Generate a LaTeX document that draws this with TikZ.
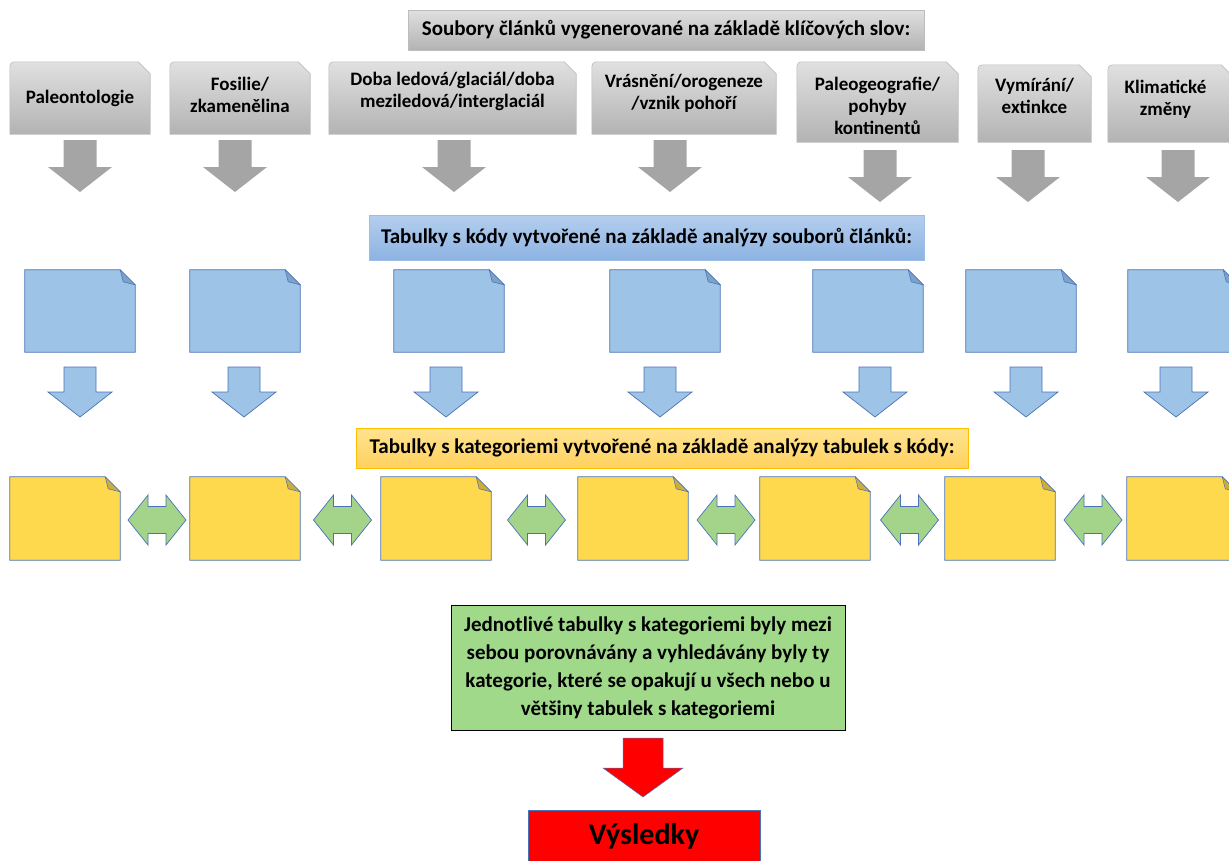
\documentclass[tikz,border=0pt]{standalone}
\usepackage{fontspec}
\setmainfont{Carlito}
\usetikzlibrary{positioning, calc, backgrounds}

\definecolor{boxtop}{HTML}{E0E0E0}
\definecolor{boxbottom}{HTML}{B3B3B3}
\definecolor{boxline}{HTML}{BDBDBD}
\definecolor{arrowgray}{HTML}{A5A5A5}
\definecolor{bluetop}{HTML}{B4CEEF}
\definecolor{bluebottom}{HTML}{8DB3E2}
\definecolor{blueline}{HTML}{9CBDE6}
\definecolor{docblue}{HTML}{9DC3E6}
\definecolor{foldblue}{HTML}{7EA2C7}
\definecolor{edgeblue}{HTML}{4A72B8}
\definecolor{yellowtop}{HTML}{FFE391}
\definecolor{yellowbottom}{HTML}{FFD15E}
\definecolor{yellowline}{HTML}{FFC000}
\definecolor{docyellow}{HTML}{FFD94D}
\definecolor{foldyellow}{HTML}{CCAE3E}
\definecolor{arrowgreen}{HTML}{A3D48A}
\definecolor{boxgreen}{HTML}{A0D98A}
\definecolor{boxred}{HTML}{FF0000}

\begin{document}
\begin{tikzpicture}[
    x=1pt, y=-1pt,
    header/.style={rectangle, minimum height=40pt, inner sep=0pt, font=\fontsize{21}{24}\selectfont\bfseries},
    topicframe/.style={rectangle, inner sep=0pt, minimum width=#1, minimum height=72pt},
    topictext/.style={inner sep=0pt, align=center, font=\fontsize{19}{22}\selectfont\bfseries},
    topicshape/.style={top color=boxtop, bottom color=boxbottom, draw=boxline, line width=0.6pt},
    codedoc/.style={rectangle, inner sep=0pt, minimum width=110pt, minimum height=82pt},
    catdoc/.style={codedoc, minimum height=83pt},
    pics/grayarrow/.style={code={\fill[arrowgray] (-16.5,-26) -- (16.5,-26) -- (16.5,1) -- (32,1) -- (0,26) -- (-32,1) -- (-16.5,1) -- cycle;}},
    pics/bluearrow/.style={code={\filldraw[fill=docblue, draw=edgeblue, line width=0.7pt] (-16,-25) -- (16,-25) -- (16,0) -- (32,0) -- (0,25) -- (-32,0) -- (-16,0) -- cycle;}},
    pics/greenarrow/.style={code={\filldraw[fill=arrowgreen, draw=edgeblue, line width=0.7pt] (-29,0) -- (-9,-25) -- (-9,-13.5) -- (9,-13.5) -- (9,-25) -- (29,0) -- (9,25) -- (9,13.5) -- (-9,13.5) -- (-9,25) -- cycle;}},
    pics/redarrow/.style={code={\filldraw[fill=boxred, draw=edgeblue, line width=0.5pt] (-20,-29.5) -- (20,-29.5) -- (20,0.5) -- (40,0.5) -- (0,29.5) -- (-40,0.5) -- (-20,0.5) -- cycle;}}
]
\useasboundingbox (0,0) rectangle (1229,860);
\begin{scope}[on background layer]
  \fill[white] (0,0) rectangle (1229,860);
\end{scope}

% Keyword files
\node[header, minimum width=516pt, top color=boxtop, bottom color=boxbottom, draw=boxline] (files) at (666,30) {Soubory článků vygenerované na základě klíčových slov:};

\node[topicframe=140pt] (pal) at (80,98) {};
\node[topicframe=140pt] (fos) at (240,98) {};
\node[topicframe=247pt] (ice) at (452.5,98) {};
\node[topicframe=184pt] (oro) at (684,98) {};
\node[topicframe=161pt, minimum height=80pt] (geo) at (877.5,102) {};
\node[topicframe=113pt, minimum height=77pt] (ext) at (1034.5,103.5) {};
\node[topicframe=125pt, minimum height=77pt] (cli) at (1170.5,103.5) {};

\begin{scope}[on background layer]
  \foreach \n in {pal,fos,ice,oro,geo,ext,cli}
    \path[topicshape] (\n.south west) -- ([yshift=-10pt]\n.north west) .. controls (\n.north west) .. ([xshift=10pt]\n.north west) -- ([xshift=-12pt]\n.north east) -- ([yshift=-12pt]\n.north east) -- (\n.south east) -- cycle;
\end{scope}

\node[topictext] (paltext) at (pal.center) {Paleontologie};
\node[topictext] (fostext) at ([yshift=3pt]fos.center) {Fosilie/\\zkamenělina};
\node[topictext] (icetext) at ([yshift=7pt]ice.center) {Doba ledová/glaciál/doba\\meziledová/interglaciál};
\node[topictext] (orotext) at ([yshift=5pt]oro.center) {Vrásnění/orogeneze\\/vznik pohoří};
\node[topictext] (geotext) at ([yshift=-4pt]geo.center) {Paleogeografie/\\pohyby\\kontinentů};
\node[topictext] (exttext) at ([yshift=8pt]ext.center) {Vymírání/\\extinkce};
\node[topictext] (clitext) at ([xshift=-5pt, yshift=4pt]cli.center) {Klimatické\\změny};

\foreach \x/\y in {80/166, 235/166, 454/166, 670/166, 880/176, 1028/176, 1178/176}
  \pic at (\x,\y) {grayarrow};

% Code tables
\node[header, minimum width=555pt, minimum height=45pt, top color=bluetop, bottom color=bluebottom, draw=blueline] (codes) at (646.5,237.5) {Tabulky s kódy vytvořené na základě analýzy souborů článků:};

\foreach \x [count=\i] in {25,190,394,610,813,966,1128} {
  \node[codedoc] (code\i) at ({\x+55},311) {};
  \filldraw[fill=docblue, draw=edgeblue, line width=0.7pt] (code\i.south west) -- (code\i.north west) -- ([xshift=-15pt]code\i.north east) -- ([yshift=-15pt]code\i.north east) -- (code\i.south east) -- cycle;
  \filldraw[fill=foldblue, draw=edgeblue, line width=0.5pt] ([xshift=-15pt]code\i.north east) -- ([yshift=-15pt]code\i.north east) -- ([shift={(-12pt,-12pt)}]code\i.north east) -- cycle;
}

\foreach \x in {80,244,446,660,875,1026,1176}
  \pic at (\x,392) {bluearrow};

% Category tables
\node[header, minimum width=612pt, top color=yellowtop, bottom color=yellowbottom, draw=yellowline, line width=0.8pt] (cats) at (662,448) {Tabulky s kategoriemi vytvořené na základě analýzy tabulek s kódy:};

\foreach \x [count=\i] in {10,190,381,578,760,945,1127} {
  \node[catdoc] (cat\i) at ({\x+55},518.5) {};
  \filldraw[fill=docyellow, draw=edgeblue, line width=0.7pt] (cat\i.south west) -- (cat\i.north west) -- ([xshift=-15pt]cat\i.north east) -- ([yshift=-15pt]cat\i.north east) -- (cat\i.south east) -- cycle;
  \filldraw[fill=foldyellow, draw=edgeblue, line width=0.5pt] ([xshift=-15pt]cat\i.north east) -- ([yshift=-15pt]cat\i.north east) -- ([shift={(-12pt,-12pt)}]cat\i.north east) -- cycle;
}

\foreach \i/\j in {1/2,2/3,3/4,4/5,5/6,6/7}
  \pic at ($(cat\i.east)!0.5!(cat\j.west)+(2,1.5)$) {greenarrow};

% Comparison and results
\node[draw=black, fill=boxgreen, line width=0.8pt, minimum width=394pt, minimum height=125pt, align=center, inner sep=0pt, font=\fontsize{21}{28}\selectfont\bfseries] (compare) at (648,667.5) {Jednotlivé tabulky s kategoriemi byly mezi\\sebou porovnávány a vyhledávány byly ty\\kategorie, které se opakují u všech nebo u\\většiny tabulek s kategoriemi};

\pic at (643,767.5) {redarrow};

\node[draw=edgeblue, fill=boxred, minimum width=232pt, minimum height=52pt, inner sep=0pt, font=\fontsize{30}{36}\selectfont\bfseries] (result) at (644,836) {Výsledky};

\end{tikzpicture}
\end{document}
